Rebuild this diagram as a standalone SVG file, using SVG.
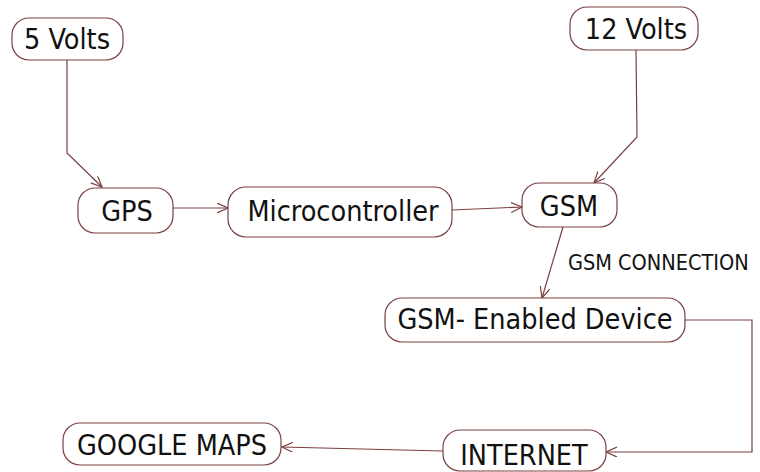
<svg xmlns="http://www.w3.org/2000/svg" width="760" height="472" viewBox="0 0 760 472">
<defs>
<style>
.node rect{fill:#fff;stroke:#7a3f3f;stroke-width:1.2}
.node text,.lbl{font-family:"DejaVu Sans Condensed","DejaVu Sans","Liberation Sans",sans-serif;font-stretch:condensed;fill:#111}
.node text{font-size:28.5px;text-anchor:middle}
.lbl{font-size:21.5px}
.conn{fill:none;stroke:#7a3f3f;stroke-width:1.2;marker-end:url(#arr)}
</style>
<marker id="arr" markerUnits="userSpaceOnUse" markerWidth="14" markerHeight="12" refX="11" refY="5" orient="auto">
<path d="M0,0 L11,5 L0,10" fill="none" stroke="#7a3f3f" stroke-width="1.2"/>
</marker>
</defs>
<rect width="760" height="472" fill="#fff"/>
<g id="connectors">
<polyline class="conn" points="67,60 67,153 102,187"/>
<polyline class="conn" points="636,50 637,137 594,183"/>
<line class="conn" x1="173" y1="208" x2="228" y2="208"/>
<line class="conn" x1="452" y1="210" x2="522" y2="207"/>
<line class="conn" x1="563" y1="227" x2="542" y2="298"/>
<polyline class="conn" points="685,320 752,320 752,452 606,452"/>
<line class="conn" x1="443" y1="451" x2="282" y2="447"/>
<text class="lbl" x="568" y="270">GSM CONNECTION</text>
</g>
<g id="n5v" class="node"><rect x="12" y="18" width="111" height="42" rx="17"/><text x="67" y="49">5 Volts</text></g>
<g id="n12v" class="node"><rect x="570" y="7" width="128" height="43" rx="17"/><text x="636" y="39">12 Volts</text></g>
<g id="gps" class="node"><rect x="78" y="188" width="95" height="45" rx="17"/><text x="127" y="221">GPS</text></g>
<g id="mcu" class="node"><rect x="228" y="187" width="224" height="50" rx="18"/><text x="343" y="221">Microcontroller</text></g>
<g id="gsm" class="node"><rect x="522" y="183" width="95" height="44" rx="17"/><text x="569" y="216">GSM</text></g>
<g id="device" class="node"><rect x="385" y="298" width="300" height="44" rx="17"/><text x="535" y="329">GSM- Enabled Device</text></g>
<g id="maps" class="node"><rect x="63" y="423" width="218" height="42" rx="17"/><text x="172" y="455">GOOGLE MAPS</text></g>
<g id="internet" class="node"><rect x="443" y="430" width="163" height="41" rx="17"/><text x="524" y="465">INTERNET</text></g>
</svg>
